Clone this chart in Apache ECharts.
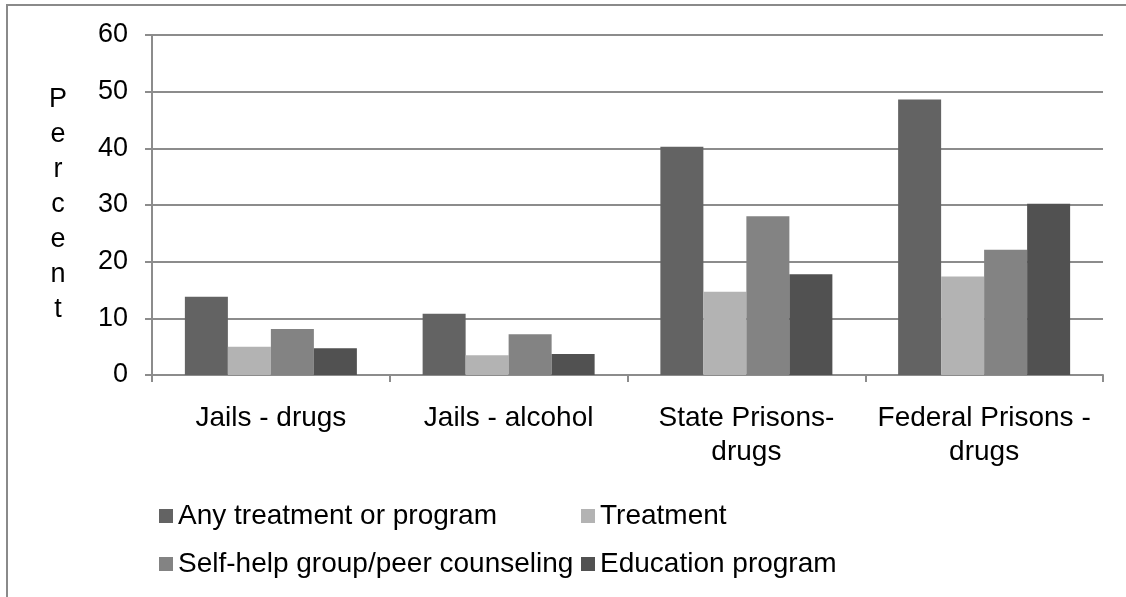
<!DOCTYPE html>
<html>
<head>
<meta charset="utf-8">
<script src="https://cdn.jsdelivr.net/npm/echarts@6/dist/echarts.min.js"></script>
<style>
  html, body { margin: 0; padding: 0; background: #fff; }
  #chart { width: 1126px; height: 597px; }
</style>
</head>
<body>
<div id="chart"></div>
<script>
// Facility groups along the x axis
const categories = ['Jails - drugs', 'Jails - alcohol', 'State Prisons-\ndrugs', 'Federal Prisons -\ndrugs'];

// Percent of inmates participating, by program type
const anyTreatment = [13.8, 10.8, 40.3, 48.6];
const treatment = [5.0, 3.5, 14.7, 17.4];
const selfHelp = [8.1, 7.2, 28.0, 22.1];
const education = [4.7, 3.7, 17.8, 30.2];

const seriesNames = ['Any treatment or program', 'Treatment', 'Self-help group/peer counseling', 'Education program'];
const yTicks = [0, 10, 20, 30, 40, 50, 60];

const FONT = "'Liberation Sans', Arial, sans-serif";
const GRID_GRAY = '#8c8c8c';
const colors = ['#636363', '#b3b3b3', '#838383', '#515151'];

const chart = echarts.init(document.getElementById('chart'), null, { renderer: 'canvas' });

const values = [anyTreatment, treatment, selfHelp, education];

const legendText = { fontFamily: FONT, fontSize: 28, color: '#000' };

chart.setOption({
  animation: false,
  backgroundColor: '#ffffff',
  textStyle: { fontFamily: FONT, color: '#000' },
  graphic: [{
    type: 'rect',
    shape: { x: 7, y: 5, width: 1200, height: 700 },
    style: { fill: 'none', stroke: '#8a8a8a', lineWidth: 2 },
    silent: true
  }],
  grid: { left: 152, right: 23, top: 35, bottom: 222, containLabel: false },
  legend: [{
    orient: 'vertical',
    left: 159, top: 502, padding: 0,
    itemWidth: 14, itemHeight: 14, itemGap: 20,
    icon: 'rect',
    data: [seriesNames[0], seriesNames[2]],
    textStyle: legendText
  }, {
    orient: 'vertical',
    left: 581, top: 502, padding: 0,
    itemWidth: 14, itemHeight: 14, itemGap: 20,
    icon: 'rect',
    data: [seriesNames[1], seriesNames[3]],
    textStyle: legendText
  }],
  xAxis: {
    type: 'category',
    data: categories,
    boundaryGap: true,
    axisLine: { show: true, lineStyle: { color: GRID_GRAY, width: 2 } },
    axisTick: { show: true, length: 7, inside: false, lineStyle: { color: GRID_GRAY, width: 2 } },
    axisLabel: { fontFamily: FONT, fontSize: 28, color: '#000', margin: 26, lineHeight: 34, interval: 0 },
    splitLine: { show: false }
  },
  yAxis: {
    type: 'value',
    min: yTicks[0], max: yTicks[yTicks.length - 1], interval: 10,
    name: 'P\ne\nr\nc\ne\nn\nt',
    nameLocation: 'middle', nameRotate: 0, nameGap: 94,
    nameTextStyle: { fontFamily: FONT, fontSize: 27, color: '#000', lineHeight: 35, align: 'center', verticalAlign: 'middle' },
    axisLine: { show: true, lineStyle: { color: GRID_GRAY, width: 2 } },
    axisTick: { show: true, length: 7, inside: false, lineStyle: { color: GRID_GRAY, width: 2 } },
    axisLabel: { fontFamily: FONT, fontSize: 27, color: '#000', margin: 24 },
    splitLine: { show: true, lineStyle: { color: GRID_GRAY, width: 2 } }
  },
  series: seriesNames.map((name, i) => ({
    name,
    type: 'bar',
    data: values[i],
    barWidth: 43,
    barGap: '0%',
    itemStyle: { color: colors[i] }
  }))
});
</script>
</body>
</html>
